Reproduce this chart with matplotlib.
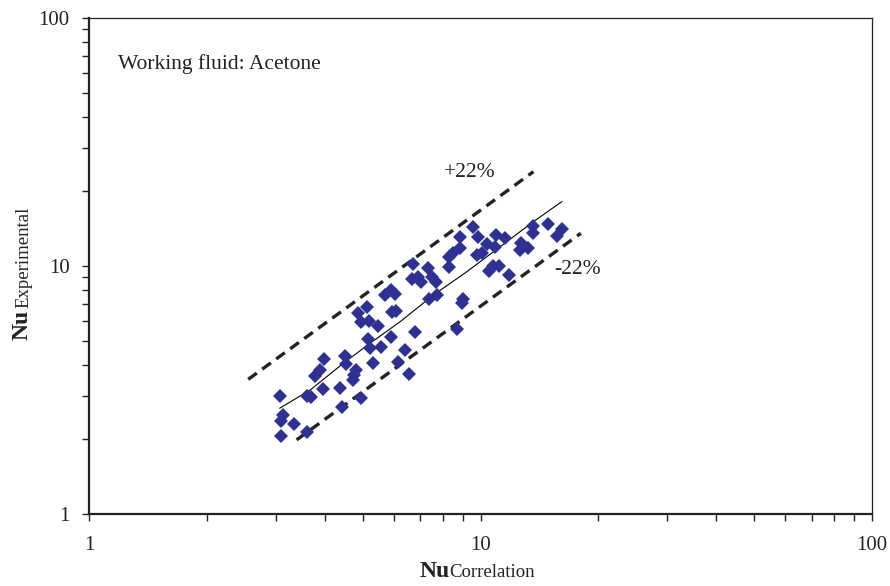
import matplotlib
matplotlib.use('Agg')
import matplotlib.pyplot as plt
from matplotlib.ticker import LogLocator, NullFormatter, FixedLocator, FixedFormatter

plt.rcParams['font.family'] = ['Liberation Serif', 'DejaVu Serif']

# measured data
nu_corr = [3.07, 3.12, 3.09, 3.33, 3.09, 3.60, 3.60, 3.69, 3.95, 3.78,
           3.88, 3.98, 4.38, 4.42, 4.95, 4.51, 4.53, 4.72, 4.75, 4.81,
           4.87, 5.12, 4.94, 5.20, 5.48, 5.17, 5.22, 5.32, 5.57, 5.70,
           5.90, 6.05, 5.93, 6.08, 5.90, 6.14, 6.41, 6.57, 6.80, 6.71,
           6.67, 6.94, 7.04, 7.33, 7.51, 7.68, 7.40, 7.76, 8.28, 8.49,
           8.28, 8.86, 8.86, 9.55, 9.87, 9.81, 10.07, 10.41, 10.94, 10.89,
           11.57, 10.53, 10.78, 11.15, 11.85, 8.95, 9.04, 8.69, 12.67, 12.62,
           13.25, 13.59, 13.64, 14.85, 15.65, 16.12]
nu_exp = [3.00, 2.51, 2.37, 2.31, 2.06, 2.15, 3.00, 2.96, 3.18, 3.60,
          3.81, 4.23, 3.21, 2.71, 2.93, 4.35, 4.01, 3.47, 3.64, 3.81,
          6.45, 6.82, 5.96, 6.02, 5.73, 5.06, 4.66, 4.05, 4.70, 7.64,
          8.00, 7.71, 6.51, 6.60, 5.16, 4.09, 4.58, 3.67, 5.43, 10.16,
          8.86, 9.05, 8.64, 9.84, 9.05, 8.64, 7.34, 7.64, 10.90, 11.25,
          9.94, 11.79, 13.13, 14.40, 13.05, 11.08, 11.25, 12.24, 13.34, 11.96,
          12.97, 9.57, 10.00, 10.00, 9.17, 7.11, 7.34, 5.57, 12.35, 11.60,
          11.79, 14.50, 13.62, 14.77, 13.25, 14.06]

# correlation trend
trend_x = [3.07, 3.67, 4.46, 5.22, 6.23, 7.58, 9.22, 11.22, 13.64, 16.12]
trend_y = [2.67, 3.16, 4.05, 4.88, 5.96, 7.64, 9.48, 11.96, 15.09, 18.17]

# +/-22% bounds
upper_x = [2.55, 13.64]
upper_y = [3.49, 24.0]
lower_x = [3.39, 18.03]
lower_y = [1.99, 13.55]

W, H = 890, 586
fig = plt.figure(figsize=(W / 100, H / 100), dpi=100)
ax = fig.add_axes([0.1, 0.1229, 0.88, 0.8464])

ax.plot(upper_x, upper_y, color='#222222', lw=2.4, dashes=(3.2, 2.0))
ax.plot(lower_x, lower_y, color='#222222', lw=2.4, dashes=(3.2, 2.0))
ax.plot(trend_x, trend_y, color='black', lw=0.8)
ax.plot(nu_corr, nu_exp, 'D', color='#2e3192', markersize=7, markeredgewidth=0)

ax.set_xscale('log')
ax.set_yscale('log')
ax.set_xlim(1, 100)
ax.set_ylim(1, 100)

for a in (ax.xaxis, ax.yaxis):
    a.set_major_locator(FixedLocator([1, 10, 100]))
    a.set_major_formatter(FixedFormatter(['1', '10', '100']))
    a.set_minor_locator(LogLocator(base=10, subs=range(2, 10)))
    a.set_minor_formatter(NullFormatter())

ax.tick_params(which='both', direction='out', length=5, width=1, labelsize=15,
               color='#222222', labelcolor='#222222')
ax.tick_params(axis='x', which='major', pad=11)
ax.tick_params(axis='y', which='major', pad=9)

for s in ('left', 'bottom'):
    ax.spines[s].set_linewidth(1.6)
    ax.spines[s].set_color('#222222')
for s in ('top', 'right'):
    ax.spines[s].set_linewidth(0.9)
    ax.spines[s].set_color('#222222')

# axis titles: bold "Nu" with a subscript on the same baseline
fig.text(420 / W, 1 - 577 / H, 'Nu', fontsize=17, fontweight='bold',
         ha='left', va='baseline', color='#222222')
fig.text(449 / W, 1 - 577 / H, 'Correlation', fontsize=13.5,
         ha='left', va='baseline', color='#222222')
fig.text(28 / W, 1 - 340 / H, 'Nu', fontsize=17, fontweight='bold',
         rotation=90, rotation_mode='anchor', ha='left', va='baseline',
         color='#222222')
fig.text(28 / W, 1 - 308 / H, 'Experimental', fontsize=13.5,
         rotation=90, rotation_mode='anchor', ha='left', va='baseline',
         color='#222222')

fig.text(118 / W, 1 - 64 / H, 'Working fluid: Acetone', fontsize=15.5,
         va='center', ha='left', color='#222222')
ax.text(9.4, 23.9, '+22%', fontsize=15.5, color='#222222', ha='center', va='center')
ax.text(17.7, 9.64, '-22%', fontsize=15.5, color='#222222', ha='center', va='center')

fig.savefig('out.png', dpi=100)
